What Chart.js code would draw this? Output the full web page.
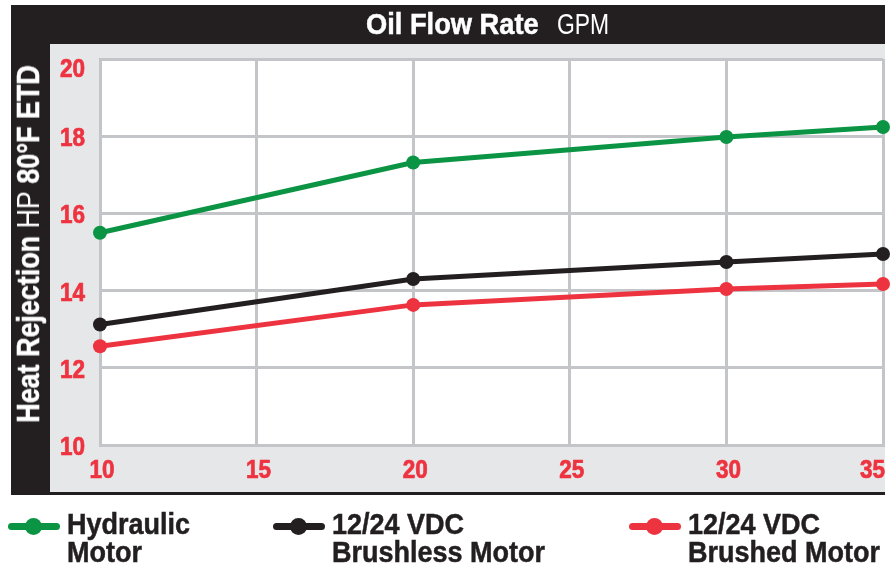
<!DOCTYPE html>
<html>
<head>
<meta charset="utf-8">
<script src="https://cdn.jsdelivr.net/npm/chart.js@4.4.0/dist/chart.umd.min.js"></script>
<style>
  body { margin: 0; background: #fff; }
  #wrap { position: relative; width: 892px; height: 564px; overflow: hidden; font-family: 'Liberation Sans', Arial, sans-serif; }
  #wrap canvas { position: absolute; left: 0; top: 0; }
  .txt { position: absolute; white-space: nowrap; }
  .hvy { font-weight: bold; -webkit-text-stroke: 0.5px currentColor; }
  #title1 { left: 366px; top: 5px; line-height: 38px; color: #fff; font-size: 29px; transform: scaleX(0.94); transform-origin: left center; }
  #title2 { left: 557px; top: 5px; line-height: 38px; color: #fff; font-size: 29px; transform: scaleX(0.79); transform-origin: left center; }
  #ytitle { left: 28px; top: 244px; color: #fff; font-size: 32px; line-height: 32px; transform: translate(-50%, -50%) rotate(-90deg) scaleX(0.84); }
  #ytitle span { font-weight: normal; -webkit-text-stroke: 0; }
  .leg .ln { position: absolute; top: 523px; height: 7px; width: 52px; border-radius: 4px; }
  .leg .dot { position: absolute; top: 518px; width: 17px; height: 17px; border-radius: 50%; }
  .leg .lab { position: absolute; top: 510px; font-size: 30px; line-height: 28px; color: #231f20; white-space: nowrap; transform: scaleX(0.9); transform-origin: left top; }
</style>
</head>
<body>
<div id="wrap">
  <canvas id="chart" width="892" height="564"></canvas>
  <div class="txt hvy" id="title1">Oil Flow Rate</div>
  <div class="txt" id="title2">GPM</div>
  <div class="txt hvy" id="ytitle">Heat Rejection <span>HP</span> 80°F ETD</div>
  <div id="legend"></div>
</div>
<script>
const flowRate = [10, 20, 30, 35];
const hydraulic = [15.5, 17.32, 17.98, 18.24];
const brushless = [13.12, 14.3, 14.74, 14.95];
const brushed = [12.56, 13.63, 14.04, 14.17];
const xTicks = [10, 15, 20, 25, 30, 35];
const yTicks = [10, 12, 14, 16, 18, 20];
const seriesNames = [['Hydraulic', 'Motor'], ['12/24 VDC', 'Brushless Motor'], ['12/24 VDC', 'Brushed Motor']];
const seriesColors = ['#0b9444', '#231f20', '#ee3340'];

const RED = '#ee3340';
const GRID = '#c4c5c8';
const FRAME_RIGHT = 885;

// frame: black title bar + left bar, grey surround, white plot area
const framePlugin = {
    id: 'frame',
    beforeDraw(chart) {
        const { ctx, chartArea: a } = chart;
        ctx.save();
        ctx.fillStyle = '#fff';
        ctx.fillRect(0, 0, chart.width, chart.height);
        ctx.fillStyle = '#231f20';
        ctx.fillRect(11, 5, FRAME_RIGHT - 11, 490);
        ctx.fillStyle = '#e6e7e8';
        ctx.fillRect(50, 44, FRAME_RIGHT - 50, 448);
        ctx.fillStyle = '#fff';
        ctx.fillRect(a.left, a.top, a.right - a.left, a.bottom - a.top);
        ctx.restore();
    },
    // condensed red tick labels, placed with the chart's own scales
    afterDraw(chart) {
        const { ctx, chartArea: a, scales } = chart;
        const SX = 0.9;
        const put = (txt, x, y, align) => {
            ctx.save();
            ctx.translate(x, y);
            ctx.scale(SX, 1);
            ctx.textAlign = align;
            ctx.fillText(txt, 0, 0);
            ctx.strokeText(txt, 0, 0);
            ctx.restore();
        };
        ctx.save();
        ctx.font = "bold 25px 'Liberation Sans', Arial, sans-serif";
        ctx.fillStyle = RED; ctx.strokeStyle = RED; ctx.lineWidth = 0.7;
        ctx.textBaseline = 'alphabetic';
        xTicks.forEach(v => {
            const t = String(v);
            const half = ctx.measureText(t).width * SX / 2;
            const cx = Math.min(scales.x.getPixelForValue(v) + 2, FRAME_RIGHT - half);
            put(t, cx, a.bottom + 33, 'center');
        });
        yTicks.forEach(v => put(String(v), a.left - 15, Math.max(scales.y.getPixelForValue(v) + 10, a.top + 18), 'right'));
        ctx.restore();
    }
};

const series = [hydraulic, brushless, brushed];
const datasets = series.map((vals, i) => ({
    label: seriesNames[i].join(' '),
    data: flowRate.map((x, j) => ({ x: x, y: vals[j] })),
    borderColor: seriesColors[i], backgroundColor: seriesColors[i],
    pointBackgroundColor: seriesColors[i], pointBorderWidth: 0,
    borderWidth: 5, pointRadius: 7, pointHoverRadius: 7,
    tension: 0, clip: false
}));

new Chart(document.getElementById('chart'), {
    type: 'line',
    data: { datasets: datasets },
    options: {
        responsive: false, animation: false,
        layout: { padding: { left: 50, top: 59, right: 9, bottom: 79 }, autoPadding: false },
        plugins: { legend: { display: false }, tooltip: { enabled: false } },
        scales: {
            x: {
                type: 'linear', min: 10, max: 35,
                afterBuildTicks: s => { s.ticks = xTicks.map(v => ({ value: v })); },
                afterFit: s => { s.height = 40; s.paddingLeft = 0; s.paddingRight = 0; },
                grid: { color: GRID, lineWidth: 3, drawTicks: false },
                border: { color: GRID, width: 3 },
                ticks: { display: false }
            },
            y: {
                min: 10, max: 20,
                afterBuildTicks: s => { s.ticks = yTicks.map(v => ({ value: v })); },
                afterFit: s => { s.width = 50; s.paddingTop = 0; s.paddingBottom = 0; },
                grid: { color: GRID, lineWidth: 3, drawTicks: false },
                border: { color: GRID, width: 3 },
                ticks: { display: false }
            }
        }
    },
    plugins: [framePlugin]
});

// legend below the frame
const legendLefts = [8, 273, 629];
const legend = document.getElementById('legend');
seriesNames.forEach((name, i) => {
    const x = legendLefts[i];
    const g = document.createElement('div');
    g.className = 'leg';
    g.innerHTML = `<div class="ln" style="left:${x}px;background:${seriesColors[i]}"></div>` +
        `<div class="dot" style="left:${x + 17}px;background:${seriesColors[i]}"></div>` +
        `<div class="lab hvy" style="left:${x + 59}px">${name[0]}<br>${name[1]}</div>`;
    legend.appendChild(g);
});
</script>
</body>
</html>
